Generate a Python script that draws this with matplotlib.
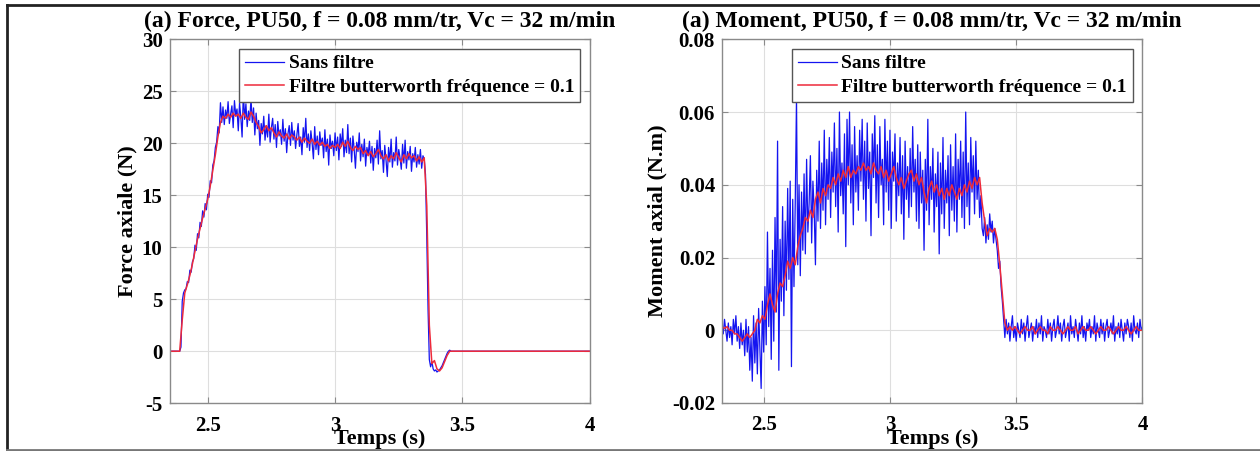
import numpy as np
import matplotlib
matplotlib.use("Agg")
import matplotlib.pyplot as plt
from matplotlib.lines import Line2D

plt.rcParams['font.family'] = ['Liberation Serif', 'DejaVu Serif']
plt.rcParams['font.weight'] = 'bold'

# ---------------- data: Force ----------------
force_t0 = 2.39
force_dt = 0.005
force_raw = [
    0.0, 0.4, 4.8, 5.6, 5.9, 6.0, 6.7, 6.6, 7.8, 7.6,
    8.6, 8.9, 10.2, 9.7, 11.3, 10.9, 12.4, 12.0, 13.5, 12.9,
    14.2, 13.6, 15.1, 14.8, 16.4, 16.2, 17.9, 18.3, 19.6, 20.1,
    21.6, 21.0, 23.9, 22.0, 23.5, 21.8, 23.2, 22.4, 24.0, 21.9,
    22.8, 23.6, 21.5, 24.1, 22.7, 23.3, 21.2, 23.9, 22.5, 20.6,
    24.9, 22.3, 23.8, 21.6, 23.1, 22.2, 24.3, 22.0, 23.4, 20.8,
    22.9, 21.4, 22.2, 19.8, 21.9, 20.9, 22.6, 20.3, 21.7, 20.6,
    22.8, 20.1, 21.5, 22.4, 20.4, 21.8, 19.6, 22.1, 20.7, 21.3,
    19.9, 22.3, 20.2, 21.4, 19.1, 20.9, 21.7, 19.8, 22.0, 20.3,
    21.2, 19.5, 20.8, 21.9, 19.7, 20.6, 18.9, 21.5, 20.1, 22.4,
    19.6, 20.9, 19.3, 21.2, 20.0, 18.5, 21.6, 19.4, 20.7, 18.9,
    21.1, 19.8, 20.5, 18.6, 21.3, 19.2, 20.4, 17.9, 20.8, 19.5,
    20.2, 18.8, 21.0, 19.3, 20.6, 18.4, 20.9, 19.7, 21.4, 18.7,
    20.3, 19.1, 21.8, 19.0, 20.5, 18.2, 20.7, 19.4, 17.6, 20.1,
    19.2, 21.0, 18.3, 19.9, 18.7, 20.4, 17.8, 19.6, 18.9, 20.2,
    18.1, 19.7, 17.4, 19.5, 18.6, 20.3, 18.0, 21.2, 18.5, 19.3,
    17.2, 19.8, 18.4, 16.8, 19.6, 18.2, 20.4, 17.7, 19.1, 18.3,
    20.6, 17.9, 19.4, 18.6, 17.5, 19.9, 18.1, 20.3, 17.6, 19.2,
    18.4, 19.7, 17.3, 19.0, 18.2, 19.6, 17.7, 18.9, 18.0, 19.4,
    17.6, 18.8, 18.5, 17.0, 11.0, 4.0, -0.8, -1.5, -1.0, -1.7,
    -1.9, -1.8, -2.0, -1.9, -1.8, -1.6, -1.4, -1.1, -0.8, -0.5,
    -0.2, 0.0, 0.1, 0.0, 0.0, 0.0, 0.0,
]
force_filt_t0 = 2.39
force_filt_dt = 0.01
force_filt = [
    0.0, 3.0, 5.6, 6.4, 7.3, 8.4, 9.6, 10.8, 11.8, 12.8,
    13.7, 14.6, 15.9, 17.4, 18.9, 20.6, 22.0, 22.6, 22.4, 22.8,
    22.5, 22.9, 22.6, 22.8, 22.4, 22.9, 22.5, 22.3, 23.0, 22.6,
    22.0, 21.6, 21.0, 21.3, 21.7, 21.2, 21.5, 21.0, 20.6, 21.1,
    20.7, 20.5, 20.9, 20.4, 20.8, 20.6, 20.3, 20.6, 20.1, 20.5,
    20.2, 20.0, 20.4, 19.9, 20.2, 19.8, 20.1, 19.7, 19.9, 19.5,
    19.8, 19.6, 19.9, 19.5, 20.1, 19.7, 20.2, 19.6, 19.3, 19.7,
    19.4, 19.6, 19.0, 19.3, 18.8, 19.2, 18.7, 19.0, 19.4, 18.8,
    18.5, 18.9, 18.3, 18.8, 18.5, 19.1, 18.6, 18.2, 18.9, 18.5,
    19.0, 18.6, 18.8, 18.3, 18.7, 18.2, 18.6, 14.0, 2.5, -1.2,
    -0.9, -1.7, -1.9, -1.6, -1.0, -0.4, 0.0, 0.0, 0.0,
]
force_xlim = (2.35, 4.0)
force_rest = 0.0

# ---------------- data: Moment ----------------
moment_t0 = 2.335
moment_dt = 0.005
moment_raw = [
    0.002, -0.001, 0.003, 0.000, -0.003, 0.002, -0.002, 0.001, -0.004, 0.003,
    -0.001, 0.004, -0.003, 0.001, -0.005, 0.002, -0.004, 0.000, -0.007, 0.003,
    -0.006, 0.001, -0.011, -0.002, -0.014, 0.004, -0.009, 0.002, -0.012, 0.006,
    -0.005, -0.016, 0.008, -0.006, 0.012, -0.004, 0.027, 0.001, 0.017, -0.008,
    0.022, -0.003, 0.031, 0.005, 0.052, -0.011, 0.025, 0.008, 0.034, 0.004,
    0.030, 0.011, 0.039, 0.014, 0.041, -0.010, 0.036, 0.012, 0.035, 0.064,
    0.018, 0.040, 0.015, 0.038, 0.022, 0.043, 0.021, 0.047, 0.027, 0.035,
    0.048, 0.024, 0.041, 0.033, 0.018, 0.044, 0.030, 0.052, 0.028, 0.046,
    0.033, 0.055, 0.029, 0.047, 0.036, 0.053, 0.031, 0.049, 0.038, 0.057,
    0.034, 0.050, 0.027, 0.060, 0.037, 0.046, 0.032, 0.054, 0.023, 0.058,
    0.040, 0.060, 0.035, 0.051, 0.029, 0.056, 0.038, 0.048, 0.033, 0.055,
    0.041, 0.058, 0.036, 0.052, 0.030, 0.057, 0.039, 0.049, 0.026, 0.054,
    0.042, 0.059, 0.035, 0.051, 0.031, 0.056, 0.040, 0.047, 0.029, 0.058,
    0.038, 0.052, 0.033, 0.055, 0.028, 0.049, 0.041, 0.054, 0.030, 0.046,
    0.037, 0.053, 0.032, 0.048, 0.025, 0.052, 0.036, 0.045, 0.031, 0.050,
    0.034, 0.056, 0.038, 0.047, 0.030, 0.051, 0.028, 0.049, 0.035, 0.044,
    0.022, 0.047, 0.033, 0.058, 0.029, 0.045, 0.036, 0.050, 0.027, 0.043,
    0.034, 0.049, 0.021, 0.046, 0.032, 0.053, 0.028, 0.044, 0.035, 0.048,
    0.026, 0.051, 0.033, 0.045, 0.030, 0.054, 0.027, 0.047, 0.036, 0.052,
    0.031, 0.049, 0.028, 0.060, 0.034, 0.046, 0.029, 0.053, 0.038, 0.048,
    0.032, 0.052, 0.036, 0.044, 0.031, 0.037, 0.028, 0.026, 0.031, 0.024,
    0.029, 0.025, 0.032, 0.027, 0.030, 0.024, 0.028, 0.025, 0.022, 0.017,
    0.019, 0.012, 0.008, 0.003, -0.002, 0.003, -0.001, 0.002, -0.003, 0.001,
    0.004, -0.002, 0.001, -0.003, 0.002, 0.000, -0.002, 0.003, -0.001, 0.002,
    -0.003, 0.001, 0.004, -0.002, 0.000, 0.002, -0.003, 0.001, -0.001, 0.003,
    -0.002, 0.002, -0.001, 0.004, -0.003, 0.001, 0.000, -0.002, 0.003, -0.001,
    0.002, -0.003, 0.001, 0.003, -0.002, 0.000, 0.004, -0.001, 0.002, -0.003,
    0.001, 0.003, -0.002, 0.000, 0.002, -0.003, 0.004, -0.001, 0.001, -0.002,
    0.003, 0.000, -0.003, 0.002, -0.001, 0.004, -0.002, 0.001, -0.003, 0.002,
    0.000, 0.003, -0.002, 0.001, -0.001, 0.004, -0.003, 0.002, 0.000, -0.002,
    0.003, -0.001, 0.002, -0.003, 0.001, 0.003, -0.002, 0.000, 0.002, -0.001,
    0.004, -0.003, 0.001, -0.001, 0.002, -0.002, 0.003, 0.000, -0.003, 0.002,
    -0.001, 0.003, 0.001, -0.002, 0.002, -0.003, 0.004, 0.000, -0.001, 0.002,
    -0.002, 0.003, 0.000, 0.001,
]
moment_filt_t0 = 2.335
moment_filt_dt = 0.01
moment_filt = [
    0.001, 0.0005, 0.001, 0.000, 0.000, -0.001, -0.001, -0.002, -0.003, -0.002,
    -0.001, -0.002, -0.001, 0.000, 0.003, 0.002, 0.004, 0.003, 0.007, 0.010,
    0.007, 0.005, 0.010, 0.013, 0.012, 0.015, 0.019, 0.017, 0.020, 0.018,
    0.023, 0.026, 0.028, 0.031, 0.030, 0.033, 0.031, 0.036, 0.038, 0.035,
    0.039, 0.037, 0.040, 0.039, 0.042, 0.040, 0.043, 0.041, 0.044, 0.042,
    0.045, 0.042, 0.044, 0.043, 0.045, 0.044, 0.046, 0.044, 0.045, 0.043,
    0.046, 0.044, 0.043, 0.045, 0.042, 0.044, 0.041, 0.043, 0.045, 0.042,
    0.040, 0.042, 0.039, 0.041, 0.043, 0.044, 0.041, 0.043, 0.040, 0.042,
    0.038, 0.035, 0.039, 0.041, 0.038, 0.040, 0.037, 0.039, 0.036, 0.039,
    0.037, 0.040, 0.038, 0.036, 0.039, 0.037, 0.040, 0.038, 0.041, 0.039,
    0.042, 0.040, 0.042, 0.035, 0.030, 0.026, 0.028, 0.027, 0.028, 0.025,
    0.018, 0.010, 0.002, 0.000, 0.001, 0.000, 0.001, 0.000, -0.001, 0.000,
    0.001, 0.000, 0.000, 0.001, -0.001, 0.000, 0.001, 0.000, 0.000, -0.001,
    0.001, 0.000, 0.000, 0.001, 0.000, -0.001, 0.000, 0.001, 0.000, 0.000,
    0.001, -0.001, 0.000, 0.001, 0.000, 0.000, 0.001, 0.000, -0.001, 0.000,
    0.001, 0.000, 0.000, 0.001, 0.000, -0.001, 0.000, 0.001, 0.000, 0.000,
    0.001, 0.000, -0.001, 0.000, 0.001, 0.000, 0.000,
]
moment_xlim = (2.335, 4.0)

titles = ["(a) Force, PU50, f = 0.08 mm/tr, Vc = 32 m/min",
          "(a) Moment, PU50, f = 0.08 mm/tr, Vc = 32 m/min"]
ylabels = ["Force axiale (N)", "Moment axial (N.m)"]
xlabel = "Temps (s)"
legend_labels = ["Sans filtre", "Filtre butterworth fréquence = 0.1"]
force_yticks = [-5, 0, 5, 10, 15, 20, 25, 30]
force_yticklabels = ["-5", "0", "5", "10", "15", "20", "25", "30"]
moment_yticks = [-0.02, 0, 0.02, 0.04, 0.06, 0.08]
moment_yticklabels = ["-0.02", "0", "0.02", "0.04", "0.06", "0.08"]
xticks = [2.5, 3, 3.5, 4]
xticklabels = ["2.5", "3", "3.5", "4"]

BLUE = "#1414f0"
RED = "#ee2a3a"

# time bases (uniform sample grids)
f_raw_t = [force_xlim[0]] + list(force_t0 + force_dt * np.arange(len(force_raw))) + [force_xlim[1]]
f_raw_v = [force_rest] + force_raw + [force_rest]
f_filt_t = [force_xlim[0]] + list(force_filt_t0 + force_filt_dt * np.arange(len(force_filt))) + [force_xlim[1]]
f_filt_v = [force_rest] + force_filt + [force_rest]
m_raw_t = moment_t0 + moment_dt * np.arange(len(moment_raw))
m_filt_t = moment_filt_t0 + moment_filt_dt * np.arange(len(moment_filt))

fig = plt.figure(figsize=(12.6, 4.51), dpi=100)
ax1 = fig.add_axes([169.5 / 1260, (451 - 403.2) / 451, 420.3 / 1260, (403.2 - 39.3) / 451])
ax2 = fig.add_axes([722.0 / 1260, (451 - 403.0) / 451, 420.5 / 1260, (403.0 - 39.3) / 451])

def style(ax, title, ylabel, yticks, yticklabels, ylim, xlim):
    ax.set_xlim(*xlim)
    ax.set_ylim(*ylim)
    ax.set_xticks(xticks)
    ax.set_xticklabels(xticklabels)
    ax.set_yticks(yticks)
    ax.set_yticklabels(yticklabels)
    ax.grid(True, color="#dedede", linewidth=0.8)
    ax.set_axisbelow(True)
    for s in ax.spines.values():
        s.set_color("#8a8a8a")
        s.set_linewidth(1.0)
    ax.tick_params(direction="in", length=4, width=0.8, color="#8a8a8a",
                   top=True, right=True, labelsize=15, pad=5)
    ax.tick_params(axis="x", pad=9)
    for lab in ax.get_xticklabels() + ax.get_yticklabels():
        lab.set_fontweight("bold")
    ax.set_title(title, fontsize=17, fontweight="bold", pad=9)
    ax.set_ylabel(ylabel, fontsize=16, fontweight="bold", labelpad=3)
    ax.set_xlabel(xlabel, fontsize=16, fontweight="bold", labelpad=-5)
    leg = ax.legend(legend_labels, loc="upper right", fontsize=14, frameon=True,
                    fancybox=False, edgecolor="#555555", framealpha=1.0,
                    handlelength=2.0, handletextpad=0.25, labelspacing=0.3,
                    borderpad=0.3, borderaxespad=0.5)
    leg.get_frame().set_linewidth(1.0)
    for t in leg.get_texts():
        t.set_fontweight("bold")

ax1.plot(f_raw_t, f_raw_v, color=BLUE, lw=0.9)
ax1.plot(f_filt_t, f_filt_v, color=RED, lw=1.1)
style(ax1, titles[0], ylabels[0], force_yticks, force_yticklabels, (-5, 30), force_xlim)

ax2.plot(m_raw_t, moment_raw, color=BLUE, lw=0.9)
ax2.plot(m_filt_t, moment_filt, color=RED, lw=1.1)
style(ax2, titles[1], ylabels[1], moment_yticks, moment_yticklabels, (-0.02, 0.08), moment_xlim)

# outer frame
fig.add_artist(Line2D([7 / 1260, 1.0], [1 - 5 / 451, 1 - 5 / 451], transform=fig.transFigure, color="#222222", lw=2))
fig.add_artist(Line2D([7 / 1260, 7 / 1260], [1 - 5 / 451, 0.0], transform=fig.transFigure, color="#222222", lw=2))
fig.add_artist(Line2D([7 / 1260, 1.0], [1 / 451, 1 / 451], transform=fig.transFigure, color="#777777", lw=2))

fig.savefig("out.png", dpi=100)
